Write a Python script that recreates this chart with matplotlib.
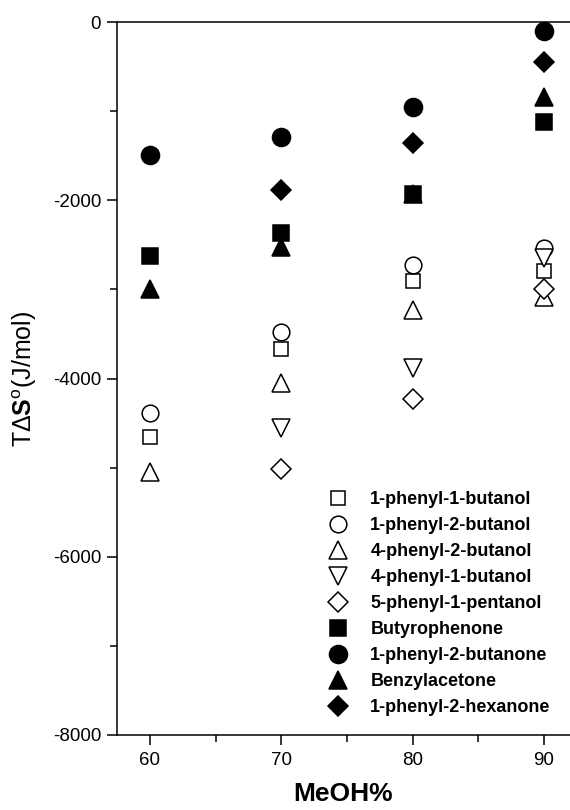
import matplotlib
matplotlib.use('Agg')
import matplotlib.pyplot as plt
from matplotlib.ticker import MultipleLocator

plt.rcParams['font.family'] = ['Liberation Sans', 'DejaVu Sans']
plt.rcParams['mathtext.fontset'] = 'custom'
plt.rcParams['mathtext.rm'] = 'Liberation Sans'
plt.rcParams['mathtext.bf'] = 'Liberation Sans:bold'
plt.rcParams['axes.unicode_minus'] = False

# MeOH % in mobile phase
meoh = [60, 70, 80, 90]

# T*dS (J/mol), NaN where no point is shown
nan = float('nan')
phenyl_1_butanol = [-4660, -3670, -2910, -2790]
phenyl_2_butanol = [-4390, -3475, -2727, -2540]
phenyl4_2_butanol = [-5050, -4050, -3230, -3085]
phenyl4_1_butanol = [nan, -4560, -3883, -2650]
phenyl5_1_pentanol = [nan, -5020, -4231, -3000]
butyrophenone = [-2626, -2370, -1930, -1120]
phenyl_2_butanone = [-1493, -1287, -950, -97]
benzylacetone = [-2990, -2525, -1930, -845]
phenyl_2_hexanone = [nan, -1885, -1354, -445]

series = [
    ('1-phenyl-1-butanol', phenyl_1_butanol, 's', 'white', 10.5),
    ('1-phenyl-2-butanol', phenyl_2_butanol, 'o', 'white', 12),
    ('4-phenyl-2-butanol', phenyl4_2_butanol, '^', 'white', 13),
    ('4-phenyl-1-butanol', phenyl4_1_butanol, 'v', 'white', 13),
    ('5-phenyl-1-pentanol', phenyl5_1_pentanol, 'D', 'white', 10),
    ('Butyrophenone', butyrophenone, 's', 'black', 11.5),
    ('1-phenyl-2-butanone', phenyl_2_butanone, 'o', 'black', 13),
    ('Benzylacetone', benzylacetone, '^', 'black', 13),
    ('1-phenyl-2-hexanone', phenyl_2_hexanone, 'D', 'black', 10),
]

fig = plt.figure(figsize=(5.7, 8.1), dpi=100)
ax = fig.add_axes([0.2053, 0.0926, 0.7947, 0.8802])

for name, vals, mk, fc, ms in series:
    ax.plot(meoh, vals, linestyle='none', marker=mk, markersize=ms,
            markerfacecolor=fc, markeredgecolor='black', markeredgewidth=1.1,
            label=name, clip_on=False)

ax.set_xlim(57.49, 91.98)
ax.set_ylim(-8000, 0)
ax.xaxis.set_major_locator(MultipleLocator(10))
ax.xaxis.set_minor_locator(MultipleLocator(5))
ax.yaxis.set_major_locator(MultipleLocator(2000))
ax.yaxis.set_minor_locator(MultipleLocator(1000))
ax.tick_params(which='major', direction='out', length=7.5, width=1.1,
               labelsize=13.5, top=False, right=False, pad=4)
ax.tick_params(which='minor', direction='out', length=5, width=1.1,
               top=False, right=False)
ax.tick_params(axis='x', which='major', pad=5)
ax.spines['right'].set_visible(False)
for s in ['left', 'top', 'bottom']:
    ax.spines[s].set_linewidth(1.1)

ax.set_xlabel('MeOH%', fontsize=19, fontweight='bold')
ax.xaxis.set_label_coords(0.5, -0.066)
ax.set_ylabel(r'T$\Delta$$\mathbf{S}^{\mathrm{o}}$(J/mol)', fontsize=18)
ax.yaxis.set_label_coords(-0.172, 0.5)

ax.legend(loc='upper left', bbox_to_anchor=(0.4636, 0.342), frameon=False,
          prop={'weight': 'bold', 'size': 13}, handlelength=1.2,
          handletextpad=1.2, labelspacing=0.5, borderpad=0, borderaxespad=0)

fig.savefig('out.png', dpi=100)
